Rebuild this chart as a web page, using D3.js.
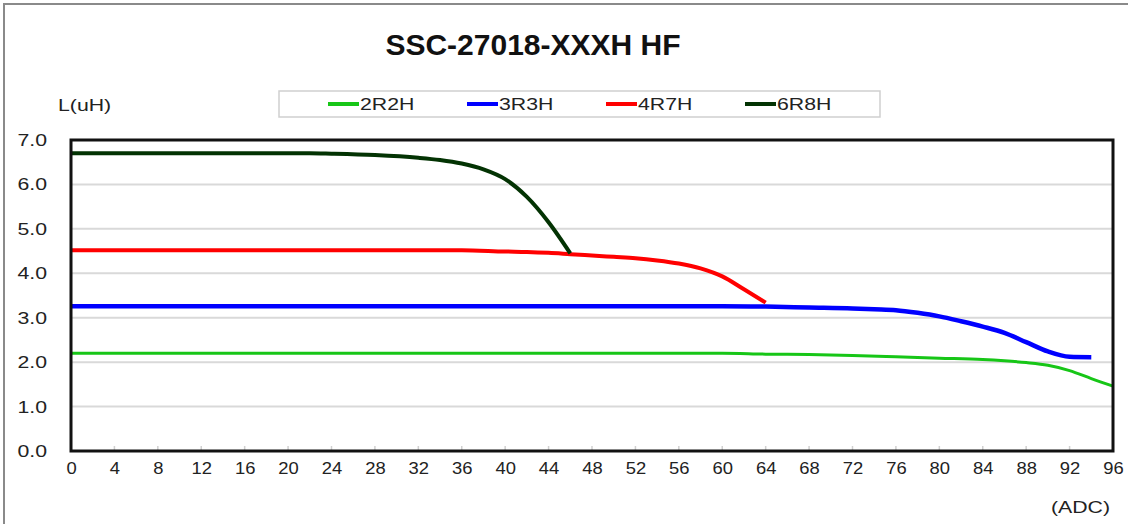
<!DOCTYPE html>
<html>
<head>
<meta charset="utf-8">
<script src="https://cdn.jsdelivr.net/npm/d3@7"></script>
<style>
  body { margin: 0; background: #fff; }
  text { font-family: "Liberation Sans", Arial, sans-serif; }
</style>
</head>
<body>
<svg id="chart" width="1128" height="524"></svg>
<script>
// ---------------------------------------------------------------- data

var title = 'SSC-27018-XXXH HF';
var seriesNames = ['2R2H', '3R3H', '4R7H', '6R8H'];
var seriesColors = ['#17c617', '#0000ff', '#ff0000', '#033303'];

var xTicks = d3.range(0, 97, 4);
var yTicks = [0, 1, 2, 3, 4, 5, 6, 7];

// [ADC, L(uH)]
var s2R2H = [[0,2.20],[8,2.20],[16,2.20],[24,2.20],[32,2.20],[40,2.20],[48,2.20],[56,2.20],[60,2.20],[64,2.18],[68,2.17],[72,2.15],[76,2.12],[80,2.09],[84,2.06],[86,2.03],[88,1.99],[90,1.93],[92,1.81],[94,1.63],[96,1.46]];
var s3R3H = [[0,3.26],[8,3.26],[16,3.26],[24,3.26],[32,3.26],[40,3.26],[48,3.26],[56,3.26],[60,3.26],[64,3.25],[68,3.23],[72,3.21],[74,3.19],[76,3.17],[78,3.11],[80,3.03],[82,2.92],[84,2.80],[86,2.66],[88,2.45],[90,2.24],[92,2.12],[94,2.11]];
var s4R7H = [[0,4.52],[8,4.52],[16,4.52],[24,4.52],[32,4.52],[36,4.52],[40,4.49],[42,4.48],[44,4.46],[46,4.43],[48,4.40],[50,4.37],[52,4.34],[54,4.29],[56,4.22],[58,4.11],[60,3.93],[62,3.64],[64,3.34]];
var s6R8H = [[0,6.70],[8,6.70],[16,6.70],[22,6.70],[24,6.69],[28,6.66],[32,6.60],[34,6.55],[36,6.47],[38,6.34],[40,6.12],[42,5.72],[44,5.15],[46,4.45]];

var seriesData = [s2R2H, s3R3H, s4R7H, s6R8H];
var seriesWidths = [3, 4.5, 4, 4];

// ---------------------------------------------------------------- setup

var svg = d3.select('#chart');
var plot = { left: 71, right: 1113, top: 140, bottom: 451 };
var sx = 1.25; // small labels in the picture are drawn wide

var x = d3.scaleLinear().domain([0, 96]).range([plot.left, plot.right]);
var y = d3.scaleLinear().domain([0, 7]).range([plot.bottom, plot.top]);

function wideText(g, px, py, str, anchor){
  return g.append('text')
    .attr('transform', 'translate(' + px + ',' + py + ') scale(' + sx + ',1)')
    .attr('text-anchor', anchor || 'start')
    .attr('font-size', 17).attr('fill', '#222')
    .text(str);
}

// outer frame (runs off the right and bottom edges)
svg.append('rect')
  .attr('x', 4).attr('y', 4).attr('width', 1140).attr('height', 540)
  .attr('fill', 'none').attr('stroke', '#8a8a8a').attr('stroke-width', 2);

// title
svg.append('text')
  .attr('x', 533).attr('y', 55)
  .attr('text-anchor', 'middle')
  .attr('font-size', 30).attr('font-weight', 'bold').attr('fill', '#111')
  .text(title);

// grid
svg.append('g').selectAll('line')
  .data(yTicks.slice(1, -1)).join('line')
  .attr('x1', plot.left).attr('x2', plot.right)
  .attr('y1', d => y(d)).attr('y2', d => y(d))
  .attr('stroke', '#d9d9d9').attr('stroke-width', 2);

// small x tick marks inside plot
svg.append('g').selectAll('line')
  .data(xTicks.slice(1, -1)).join('line')
  .attr('x1', d => x(d)).attr('x2', d => x(d))
  .attr('y1', plot.bottom).attr('y2', plot.bottom - 5)
  .attr('stroke', '#d0d0d0').attr('stroke-width', 1.5);

// axes labels
var xAxis = d3.axisBottom(x).tickValues(xTicks).tickSize(0).tickPadding(12).tickFormat(d3.format('d'));
var gx = svg.append('g').attr('transform', 'translate(0,' + plot.bottom + ')').call(xAxis);
gx.select('.domain').remove();
gx.selectAll('text').attr('font-size', 16).attr('fill', '#222')
  .attr('font-family', '"Liberation Sans", Arial, sans-serif')
  .attr('transform', 'scale(1.15,1)');

var yAxis = d3.axisLeft(y).tickValues(yTicks).tickSize(0).tickFormat(d3.format('.1f'));
var gy = svg.append('g').attr('transform', 'translate(' + plot.left + ',0)').call(yAxis);
gy.select('.domain').remove();
gy.selectAll('text').attr('font-size', 17).attr('fill', '#222')
  .attr('font-family', '"Liberation Sans", Arial, sans-serif')
  .attr('x', -24 / sx)
  .attr('transform', 'scale(' + sx + ',1)');

wideText(svg, 58, 111, 'L(uH)');
wideText(svg, 1110, 513, '(ADC)', 'end');

// lines
var line = d3.line().x(d => x(d[0])).y(d => y(d[1])).curve(d3.curveMonotoneX);

svg.append('g').selectAll('path')
  .data(seriesData).join('path')
  .attr('d', d => line(d))
  .attr('fill', 'none')
  .attr('stroke', (d, i) => seriesColors[i])
  .attr('stroke-width', (d, i) => seriesWidths[i])
  .attr('stroke-linejoin', 'round');

// plot frame
svg.append('rect')
  .attr('x', plot.left).attr('y', plot.top)
  .attr('width', plot.right - plot.left).attr('height', plot.bottom - plot.top)
  .attr('fill', 'none').attr('stroke', '#111').attr('stroke-width', 3);

// legend
var legend = svg.append('g');
legend.append('rect')
  .attr('x', 279).attr('y', 91).attr('width', 601).attr('height', 26)
  .attr('fill', '#fff').attr('stroke', '#cfcfcf').attr('stroke-width', 1.5);

var legendX = [328, 467, 606, 745];
seriesNames.forEach(function(name, i){
  legend.append('line')
    .attr('x1', legendX[i]).attr('x2', legendX[i] + 31).attr('y1', 104).attr('y2', 104)
    .attr('stroke', seriesColors[i]).attr('stroke-width', 4);
  wideText(legend, legendX[i] + 32, 110, name);
});
</script>
</body>
</html>
